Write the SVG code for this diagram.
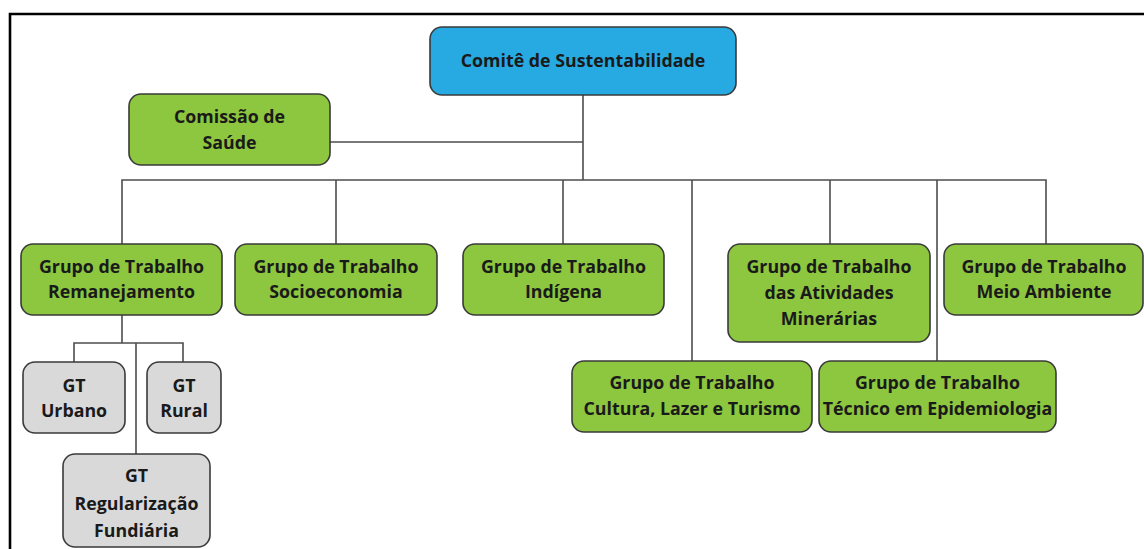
<svg xmlns="http://www.w3.org/2000/svg" width="1144" height="549" viewBox="0 0 1144 549">
<style>
.box{stroke:#3a3a3a;stroke-width:1.6}
.green{fill:#8dc63f}
.blue{fill:#27aae1}
.gray{fill:#d9d9d9}
.t{font-family:"Open Sans","Noto Sans",sans-serif;font-weight:bold;font-size:17.8px;fill:#1a1a1a;text-anchor:middle}
.c{fill:none;stroke:#4d4d4d;stroke-width:1.6}
</style>
<rect width="1144" height="549" fill="#fff"/>
<path d="M10,549 V14 H1144" fill="none" stroke="#000" stroke-width="2.6"/>
<g id="connectors" class="c">
<path d="M583,95 V180"/>
<path d="M330,142 H583"/>
<path d="M122,244 V180 H1046 V244"/>
<path d="M336,180 V244"/>
<path d="M563,180 V244"/>
<path d="M692,180 V361"/>
<path d="M830,180 V244"/>
<path d="M937,180 V361"/>
<path d="M122,315 V343"/>
<path d="M74,362 V343 H183 V362"/>
<path d="M136,343 V454"/>
</g>
<g id="comite">
<rect class="box blue" x="430" y="27" width="306" height="68" rx="12"/>
<text class="t" x="583" y="66.5">Comitê de Sustentabilidade</text>
</g>
<g id="comissao">
<rect class="box green" x="129" y="94" width="201" height="71" rx="12"/>
<text class="t" x="229.5" y="123">Comissão de</text>
<text class="t" x="229.5" y="149">Saúde</text>
</g>
<g id="gt-remanejamento">
<rect class="box green" x="21" y="244" width="201" height="71" rx="12"/>
<text class="t" x="121.5" y="273">Grupo de Trabalho</text>
<text class="t" x="121.5" y="298">Remanejamento</text>
</g>
<g id="gt-socioeconomia">
<rect class="box green" x="235" y="244" width="202" height="71" rx="12"/>
<text class="t" x="336" y="273">Grupo de Trabalho</text>
<text class="t" x="336" y="298">Socioeconomia</text>
</g>
<g id="gt-indigena">
<rect class="box green" x="463" y="244" width="201" height="71" rx="12"/>
<text class="t" x="563.5" y="273">Grupo de Trabalho</text>
<text class="t" x="563.5" y="298">Indígena</text>
</g>
<g id="gt-minerarias">
<rect class="box green" x="728" y="244" width="202" height="98" rx="12"/>
<text class="t" x="829" y="273">Grupo de Trabalho</text>
<text class="t" x="829" y="299">das Atividades</text>
<text class="t" x="829" y="325">Minerárias</text>
</g>
<g id="gt-meio-ambiente">
<rect class="box green" x="944" y="244" width="199" height="71" rx="12"/>
<text class="t" x="1044" y="273">Grupo de Trabalho</text>
<text class="t" x="1044" y="298">Meio Ambiente</text>
</g>
<g id="gt-cultura">
<rect class="box green" x="572" y="361" width="240" height="71" rx="12"/>
<text class="t" x="692" y="389">Grupo de Trabalho</text>
<text class="t" x="692" y="415">Cultura, Lazer e Turismo</text>
</g>
<g id="gt-epidemiologia">
<rect class="box green" x="819" y="361" width="237" height="71" rx="12"/>
<text class="t" x="937.5" y="389">Grupo de Trabalho</text>
<text class="t" x="937.5" y="415">Técnico em Epidemiologia</text>
</g>
<g id="gt-urbano">
<rect class="box gray" x="23" y="362" width="102" height="71" rx="12"/>
<text class="t" x="74" y="392">GT</text>
<text class="t" x="74" y="417">Urbano</text>
</g>
<g id="gt-rural">
<rect class="box gray" x="147" y="362" width="74" height="71" rx="12"/>
<text class="t" x="184" y="392">GT</text>
<text class="t" x="184" y="417">Rural</text>
</g>
<g id="gt-regularizacao">
<rect class="box gray" x="63" y="454" width="147" height="93" rx="12"/>
<text class="t" x="136.5" y="482">GT</text>
<text class="t" x="136.5" y="510">Regularização</text>
<text class="t" x="136.5" y="537">Fundiária</text>
</g>
</svg>
